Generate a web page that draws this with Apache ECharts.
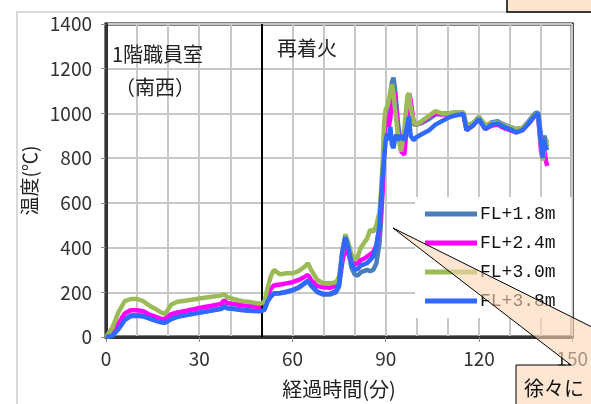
<!DOCTYPE html>
<html><head><meta charset="utf-8">
<script src="https://cdn.jsdelivr.net/npm/echarts@6/dist/echarts.min.js"></script>
<style>html,body{margin:0;padding:0;background:#fff}#c{width:591px;height:404px}</style>
</head><body><div id="c"></div>
<script>
const seriesNames = ['FL+1.8m','FL+2.4m','FL+3.0m','FL+3.8m'];
const minutes = [0,2,4,6,8,10,12,14,16,18,19,21,23,26,30,34,37,38,39,41,44,47,49,50,51,52,53,54,56,58,60,62,64,65,66,68,70,72,74,75,76,77,78,79,80,81,82,83,84,85,86,87,88,88.5,89,89.5,90,90.5,91,91.5,92,92.5,93,93.5,94,95,96,97,97.5,98,99,100,102,104,106,108,110,112,114,115,116,118,120,122,124,126,128,130,132,134,136,138,139,140,140.5,141,141.5,142];
const temp18 = [0,8,40,80,97,98,95,85,75,68,67,82,92,100,110,120,128,140,130,128,122,118,118,118,125,160,180,195,195,200,208,220,240,250,230,200,190,190,200,225,330,420,380,310,280,275,290,295,300,295,300,330,420,520,680,900,1000,1010,1030,1080,1140,1160,1110,1030,950,860,900,1050,1075,1020,950,950,960,975,995,1000,1000,1000,1005,1000,935,955,985,940,960,965,950,940,930,935,965,1000,1005,900,840,900,880,870];
const temp24 = [0,20,60,105,120,120,115,100,90,80,82,102,110,118,130,140,148,165,152,148,142,138,134,134,140,190,215,230,235,240,245,255,270,278,255,228,222,220,230,260,340,400,370,340,325,330,345,350,360,370,380,410,480,560,650,850,960,1000,940,980,1070,1100,1090,1000,920,830,815,980,1090,1060,960,950,965,985,1000,995,995,1000,1000,995,925,945,975,930,945,950,935,925,915,925,955,990,995,830,800,850,790,765];
const temp30 = [0,40,110,160,170,170,160,140,125,108,103,145,158,163,172,180,185,192,178,170,160,155,150,150,160,220,270,300,280,285,285,295,315,330,300,255,240,240,245,270,380,460,420,370,345,360,400,420,440,480,470,500,560,650,780,960,1020,1030,1060,1100,1130,1090,1020,960,890,830,930,1080,1090,1030,960,950,970,990,1010,1000,1000,1005,1005,1005,950,955,985,950,955,960,945,940,930,935,960,995,1000,850,790,830,880,850];
const temp38 = [0,5,35,75,93,95,92,82,72,65,64,80,90,98,108,118,125,135,128,125,120,116,115,115,122,160,182,195,197,203,210,222,242,252,230,203,192,193,205,240,380,447,400,330,300,305,320,325,330,345,360,410,500,620,720,800,880,910,880,940,860,845,890,905,880,900,880,950,985,900,880,895,910,925,950,965,980,990,995,998,925,945,975,930,950,955,940,930,915,925,955,990,1000,860,800,880,850,835];
const yTicks = [0,200,400,600,800,1000,1200,1400];
const xTicks = [0,30,60,90,120,150];
const colors = ['#4a7ebb','#ff00ff','#9bbb59','#3069ff'];
const allTemps = [temp18, temp24, temp30, temp38];

const chart = echarts.init(document.getElementById('c'), null, {renderer:'canvas'});
const font = '"Noto Sans CJK JP", "Noto Sans", sans-serif';
const series = seriesNames.map((n,i)=>({
  name:n, type:'line', showSymbol:false, symbol:'none', color:colors[i],
  lineStyle:{width:4.5, color:colors[i]},
  data: minutes.map((t,k)=>[t, allTemps[i][k]]),
  z: 3+i
}));
series[0].markLine = {silent:true, symbol:'none', label:{show:false},
  lineStyle:{color:'#000', width:2, type:'solid'}, data:[{xAxis:50}]};

chart.setOption({
  animation:false,
  backgroundColor:'#fff',
  grid:{left:106, top:24, right:2, bottom:67, show:true, borderColor:'#000', borderWidth:3, backgroundColor:'#fff'},
  xAxis:{type:'value', min:xTicks[0], max:xTicks[xTicks.length-1], interval:30,
    name:'経過時間(分)', nameLocation:'middle', nameGap:42,
    nameTextStyle:{fontFamily:font, fontSize:20, color:'#222'},
    axisLine:{show:true, onZero:false, lineStyle:{color:'#333', width:3}},
    axisTick:{show:true, length:5, lineStyle:{color:'#888', width:1}},
    axisLabel:{fontFamily:font, fontSize:19, color:'#333', margin:12, formatter:(v)=>String(v)},
    splitLine:{show:true, lineStyle:{color:'#c8c8c8', width:2}},
    minorTick:{show:false, splitNumber:3},
    minorSplitLine:{show:true, lineStyle:{color:'#c8c8c8', width:2}}
  },
  yAxis:{type:'value', min:yTicks[0], max:yTicks[yTicks.length-1], interval:200,
    name:'温度(℃)', nameLocation:'middle', nameGap:56, nameRotate:90,
    nameTextStyle:{fontFamily:font, fontSize:19, color:'#222'},
    axisLine:{show:true, lineStyle:{color:'#333', width:3}},
    axisTick:{show:true, length:5, lineStyle:{color:'#888', width:1}},
    axisLabel:{fontFamily:font, fontSize:19, color:'#333', margin:14, formatter:(v)=>String(v)},
    splitLine:{show:true, lineStyle:{color:'#c8c8c8', width:2}}
  },
  legend:{orient:'vertical', left:415, top:197, data:seriesNames,
    backgroundColor:'#fff', padding:[8,16,8,10], itemGap:11,
    itemWidth:52, itemHeight:5, icon:'rect', itemStyle:{borderWidth:0},
    textStyle:{fontFamily:'"Liberation Mono","DejaVu Sans Mono",monospace', fontSize:18, color:'#111', padding:[0,0,0,-2]}
  },
  series: series,
  graphic:[
    {type:'rect', shape:{x:17, y:12, width:600, height:420}, style:{fill:'none', stroke:'#d9d9d9', lineWidth:2}, z:-10, silent:true},
    {type:'text', left:112, top:44, style:{text:'1階職員室', font:'20px '+font, fill:'#222'}, z:50},
    {type:'text', left:115, top:77, style:{text:'（南西）', font:'20px '+font, fill:'#222'}, z:50},
    {type:'text', left:277, top:38, style:{text:'再着火', font:'20px '+font, fill:'#222'}, z:50},
    {type:'polygon', shape:{points:[[393,228],[620,341],[620,420],[516,420],[516,365],[571,365]]},
      style:{fill:'rgba(252,213,180,0.6)', stroke:'#000', lineWidth:1}, z:60, silent:true},
    {type:'text', left:524, top:378, style:{text:'徐々に', font:'20px '+font, fill:'#111'}, z:61},
    {type:'rect', shape:{x:507, y:-3, width:100, height:15}, style:{fill:'#fde4cc', stroke:'#000', lineWidth:1.5}, z:60, silent:true}
  ]
});
</script></body></html>
